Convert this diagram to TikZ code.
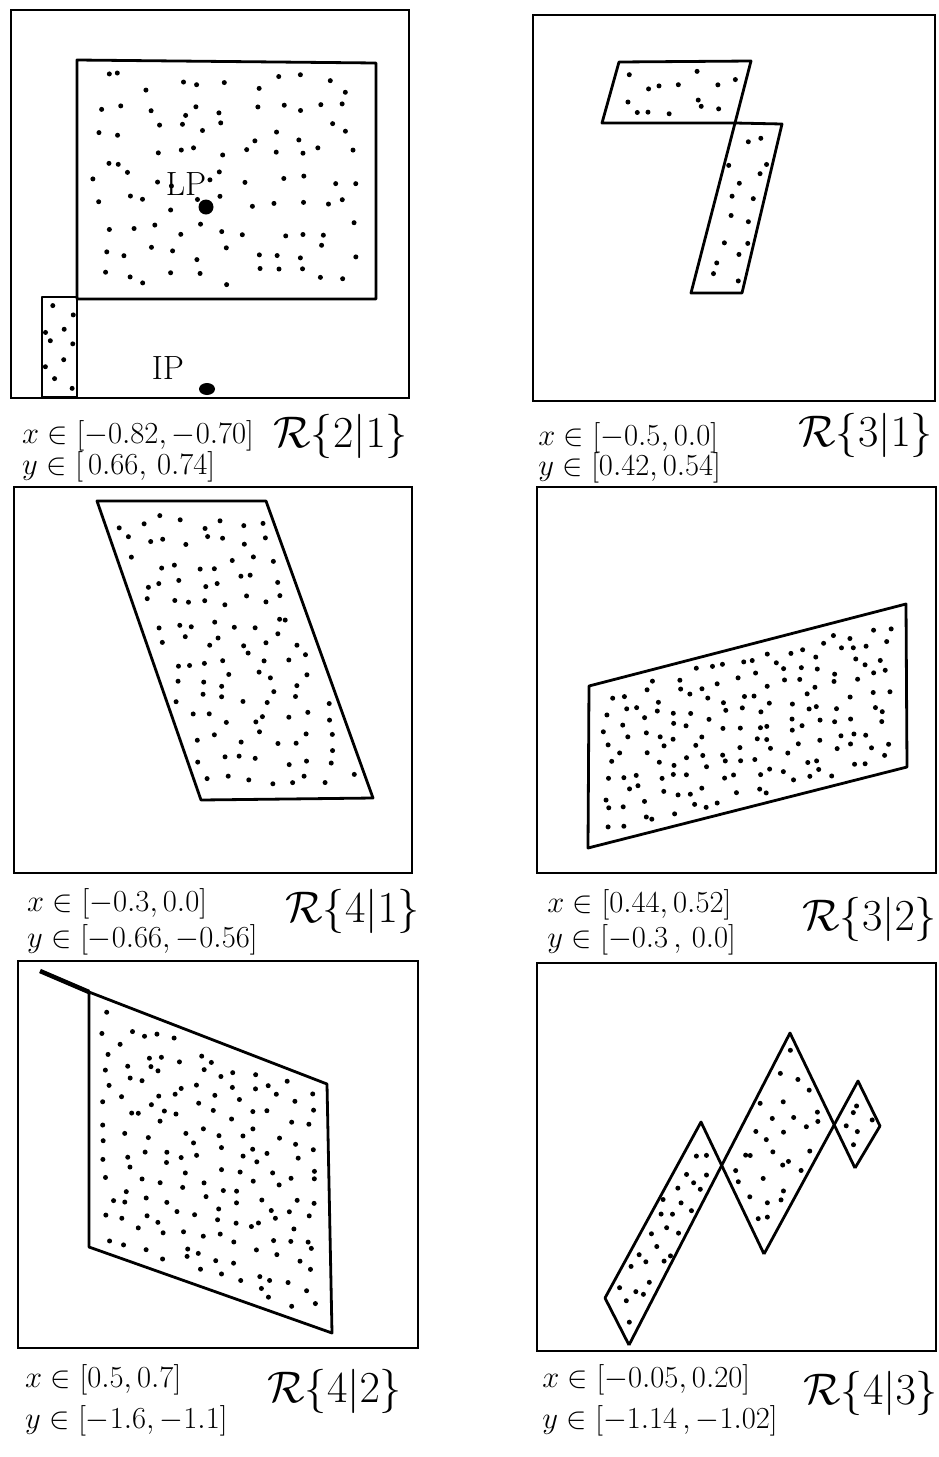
\documentclass[tikz,border=0pt]{standalone}
\usetikzlibrary{calc}
\newcommand{\dotquad}[6]{%
  \foreach \i in {1,...,#5}{%
    \foreach \j in {1,...,#6}{%
      \pgfmathsetmacro{\uu}{0.04+0.92*(\i-0.5+0.38*rand)/#5}%
      \pgfmathsetmacro{\vv}{0.04+0.92*(\j-0.5+0.38*rand)/#6}%
      \fill ($ ($(#1)!\uu!(#2)$)!\vv!($(#4)!\uu!(#3)$) $) circle[radius=2.5pt];
    }%
  }%
}
\tikzset{
  frame/.style={line width=2.6pt},
  region/.style={line width=2.8pt, line join=round},
  lab/.style={anchor=base west, inner sep=0pt, font=\fontsize{24.88}{30}\selectfont, scale=1.23},
  rlab/.style={anchor=base west, inner sep=0pt, font=\fontsize{24.88}{30}\selectfont, scale=1.78},
  ptlab/.style={inner sep=0pt, font=\fontsize{24.88}{30}\selectfont, scale=1.35},
}
\begin{document}
\begin{tikzpicture}[x=1pt,y=-1pt]
\useasboundingbox (0,0) rectangle (938,1457);
\pgfmathsetseed{4711}

% ---------------- Panel 1 : R{2|1}
\draw[frame] (11,10) rectangle (409,398);
\coordinate (a1) at (77,60); \coordinate (a2) at (376,63);
\coordinate (a3) at (376,299); \coordinate (a4) at (77,299);
\draw[region] (a1) -- (a2) -- (a3) -- (a4) -- cycle;
\dotquad{a1}{a2}{a3}{a4}{11}{9}
\coordinate (b1) at (42,297); \coordinate (b2) at (77,297);
\coordinate (b3) at (77,397); \coordinate (b4) at (42,397);
\draw[region] (b1) -- (b2) -- (b3) -- (b4) -- cycle;
\dotquad{b1}{b2}{b3}{b4}{2}{5}
\node[ptlab] (lp) at (186,184) {LP};
\fill (206,207) circle[radius=7.5pt];
\node[ptlab] (ip) at (168,368) {IP};
\fill (207,389) ellipse[x radius=8pt, y radius=6pt];
\node[lab] (x21) at (22,443) {$x\in[-0.82,-0.70]$};
\node[lab] (y21) at (22,474) {$y\in[\,0.66,\,0.74]$};
\node[rlab] (r21) at (273,447) {$\mathcal{R}\{2|1\}$};

% ---------------- Panel 2 : R{3|1}
\draw[frame] (533,15) rectangle (935,401);
\coordinate (c1) at (619,62); \coordinate (c2) at (751,61);
\coordinate (c3) at (735,123); \coordinate (c4) at (602,123);
\draw[region] (c1) -- (c2) -- (c3) -- (c4) -- cycle;
\dotquad{c1}{c2}{c3}{c4}{7}{2}
\coordinate (d1) at (735,123); \coordinate (d2) at (782,124);
\coordinate (d3) at (742,293); \coordinate (d4) at (691,293);
\draw[region] (d1) -- (d2) -- (d3) -- (d4) -- cycle;
\dotquad{d1}{d2}{d3}{d4}{2}{8}
\node[lab] (x31) at (538,445) {$x\in[-0.5,0.0]$};
\node[lab] (y31) at (538,475) {$y\in[0.42,0.54]$};
\node[rlab] (r31) at (798,446) {$\mathcal{R}\{3|1\}$};

% ---------------- Panel 3 : R{4|1}
\draw[frame] (14,487) rectangle (412,873);
\coordinate (e1) at (97,501); \coordinate (e2) at (266,501);
\coordinate (e3) at (373,798); \coordinate (e4) at (201,800);
\draw[region] (e1) -- (e2) -- (e3) -- (e4) -- cycle;
\dotquad{e1}{e2}{e3}{e4}{8}{14}
\node[lab] (x41) at (27,911) {$x\in[-0.3,0.0]$};
\node[lab] (y41) at (27,947) {$y\in[-0.66,-0.56]$};
\node[rlab] (r41) at (285,922) {$\mathcal{R}\{4|1\}$};

% ---------------- Panel 4 : R{3|2}
\draw[frame] (537,487) rectangle (936,873);
\coordinate (f1) at (589,686); \coordinate (f2) at (906,604);
\coordinate (f3) at (907,767); \coordinate (f4) at (588,848);
\draw[region] (f1) -- (f2) -- (f3) -- (f4) -- cycle;
\dotquad{f1}{f2}{f3}{f4}{18}{9}
\node[lab] (x32) at (547,912) {$x\in[0.44,0.52]$};
\node[lab] (y32) at (547,947) {$y\in[-0.3\,,\,0.0]$};
\node[rlab] (r32) at (802,930) {$\mathcal{R}\{3|2\}$};

% ---------------- Panel 5 : R{4|2}
\draw[frame] (18,961) rectangle (418,1348);
\coordinate (g1) at (89,992); \coordinate (g2) at (327,1084);
\coordinate (g3) at (332,1333); \coordinate (g4) at (89,1247);
\draw[region] (g1) -- (g2) -- (g3) -- (g4) -- cycle;
\dotquad{g1}{g2}{g3}{g4}{12}{13}
\coordinate (g0) at (40,971);
\draw[line width=4.5pt] (g0) -- (g1);
\node[lab] (x42) at (25,1387) {$x\in[0.5,0.7]$};
\node[lab] (y42) at (25,1428) {$y\in[-1.6,-1.1]$};
\node[rlab] (r42) at (267,1402) {$\mathcal{R}\{4|2\}$};

% ---------------- Panel 6 : R{4|3}
\draw[frame] (537,963) rectangle (936,1351);
\coordinate (h1) at (605,1298); \coordinate (h2) at (701,1122);
\coordinate (h3) at (764,1254); \coordinate (h4) at (629,1345);
\coordinate (h5) at (790,1033); \coordinate (h6) at (855,1168);
\coordinate (h7) at (858,1081); \coordinate (h8) at (880,1126);
\coordinate (x1) at (722,1168); \coordinate (x2) at (835,1125);
\draw[region] (h4) -- (h1) -- (h2) -- (h3);
\draw[region] (h4) -- (h5) -- (h6);
\draw[region] (h3) -- (h7) -- (h8) -- (h6);
\dotquad{h1}{h2}{x1}{h4}{9}{3}
\dotquad{x1}{h5}{x2}{h3}{6}{5}
\dotquad{x2}{h7}{h8}{h6}{3}{2}
\node[lab] (x43) at (542,1387) {$x\in[-0.05,0.20]$};
\node[lab] (y43) at (542,1428) {$y\in[-1.14\,,-1.02]$};
\node[rlab] (r43) at (803,1404) {$\mathcal{R}\{4|3\}$};
\end{tikzpicture}
\end{document}
